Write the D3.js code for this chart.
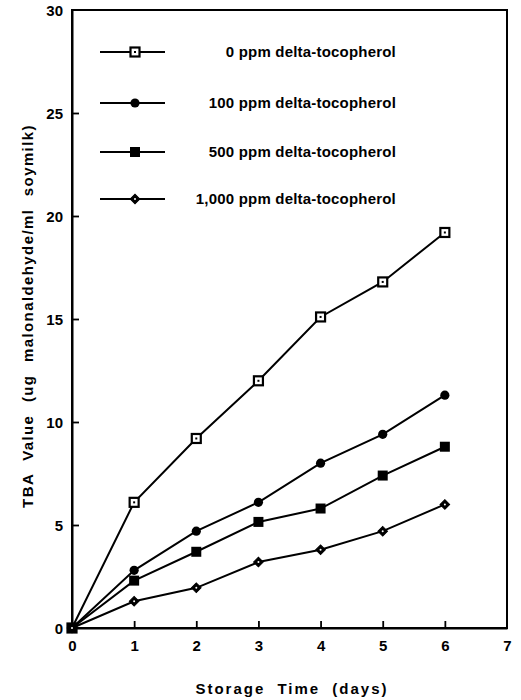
<!DOCTYPE html>
<html>
	<head>
		<meta charset="UTF-8">
		<title>TBA value vs storage time</title>
		<style>
			body{margin:0;background:#fff;}
			text{font-family:"Liberation Sans",Arial,sans-serif;fill:#000;}
		</style>
	</head>
	<body>
		<script src="https://cdn.jsdelivr.net/npm/d3@7/dist/d3.min.js"></script>
		<script>
			//storage days and TBA values per treatment
			var days = [0,1,2,3,4,5,6];
			var ppm0 = [0,6.1,9.2,12.0,15.1,16.8,19.2];
			var ppm100 = [0,2.8,4.7,6.1,8.0,9.4,11.3];
			var ppm500 = [0,2.3,3.7,5.15,5.8,7.4,8.8];
			var ppm1000 = [0,1.3,1.95,3.2,3.8,4.7,6.0];
			var seriesNames = ["0 ppm delta-tocopherol","100 ppm delta-tocopherol","500 ppm delta-tocopherol","1,000 ppm delta-tocopherol"];
			var xTicks = [0,1,2,3,4,5,6,7];
			var yTicks = [0,5,10,15,20,25,30];

			var width = 521,height = 700;
			var m = {l:72,r:14,t:10,b:72};

			var svg = d3.select("body").append("svg")
						.attr("width",width)
						.attr("height",height);

			var x = d3.scaleLinear().domain([0,7]).range([m.l,width-m.r]);
			var y = d3.scaleLinear().domain([0,30]).range([height-m.b,m.t]);

			//frame
			svg.append("rect")
				.attr("x",x(0)).attr("y",y(30))
				.attr("width",x(7)-x(0)).attr("height",y(0)-y(30))
				.attr("fill","none").attr("stroke","#000").attr("stroke-width",2);

			//axes with inward ticks
			var xAxis = svg.append("g")
				.attr("transform","translate(0,"+y(0)+")")
				.call(d3.axisBottom(x).tickValues(xTicks).tickFormat(d3.format("d")).tickSizeInner(-7).tickSizeOuter(0).tickPadding(12));
			var yAxis = svg.append("g")
				.attr("transform","translate("+x(0)+",0)")
				.call(d3.axisLeft(y).tickValues(yTicks).tickFormat(d3.format("d")).tickSizeInner(-7).tickSizeOuter(0).tickPadding(9));
			[xAxis,yAxis].forEach(function(g){
				g.select(".domain").attr("stroke-width",2);
				g.selectAll(".tick line").attr("stroke-width",1.8);
				g.selectAll(".tick text")
					.style("font-size","15px")
					.style("font-weight","bold");
			});
			xAxis.selectAll(".tick").filter(function(d){return d===0||d===7;}).select("line").remove();
			yAxis.selectAll(".tick").filter(function(d){return d===0||d===30;}).select("line").remove();
			yAxis.selectAll(".tick text").attr("dy","0.35em");

			//axis titles
			svg.append("text")
				.attr("x",292).attr("y",694)
				.attr("text-anchor","middle")
				.style("font-size","15px").style("font-weight","bold")
				.style("letter-spacing","2px").style("word-spacing","6px")
				.text("Storage Time (days)");
			svg.append("text")
				.attr("transform","translate(33,"+316+") rotate(-90)")
				.attr("text-anchor","middle")
				.style("font-size","15px").style("font-weight","bold")
				.style("letter-spacing","1.4px").style("word-spacing","7px")
				.text("TBA Value (ug malonaldehyde/ml soymilk)");

			var series = [ppm0,ppm100,ppm500,ppm1000];
			var line = d3.line()
						.x(function(d,i){return x(days[i]);})
						.y(function(d){return y(d);});

			//draw a marker for series k at px,py
			function marker(g,k,px,py){
				if(k===0){
					g.append("rect").attr("x",px-4.5).attr("y",py-4.5).attr("width",9).attr("height",9)
						.attr("fill","#fff").attr("stroke","#000").attr("stroke-width",2.2);
					g.append("rect").attr("x",px-1).attr("y",py-1).attr("width",2).attr("height",2).attr("fill","#000");
				}else if(k===1){
					g.append("circle").attr("cx",px).attr("cy",py).attr("r",4.6).attr("fill","#000");
				}else if(k===2){
					g.append("rect").attr("x",px-5).attr("y",py-5).attr("width",10).attr("height",10).attr("fill","#000");
				}else{
					g.append("path").attr("transform","translate("+px+","+py+") rotate(45)")
						.attr("d",d3.symbol(d3.symbolSquare,46)()).attr("fill","#000")
						.attr("stroke","#000").attr("stroke-width",1);
					g.append("circle").attr("cx",px).attr("cy",py).attr("r",1).attr("fill","#fff");
				}
			}

			var plot = svg.append("g");
			series.forEach(function(vals,k){
				plot.append("path")
					.datum(vals)
					.attr("d",line)
					.attr("fill","none")
					.attr("stroke","#000")
					.attr("stroke-width",2);
				vals.forEach(function(v,i){
					marker(plot,k,x(days[i]),y(v));
				});
			});

			//legend
			var legY = [52,103,152,199];
			var leg = svg.append("g");
			seriesNames.forEach(function(name,k){
				leg.append("line")
					.attr("x1",100).attr("x2",165)
					.attr("y1",legY[k]).attr("y2",legY[k])
					.attr("stroke","#000").attr("stroke-width",2);
				marker(leg,k,135,legY[k]);
				leg.append("text")
					.attr("x",396).attr("y",legY[k])
					.attr("dy","0.35em")
					.attr("text-anchor","end")
					.style("font-size","15px")
					.style("font-weight","bold")
					.style("letter-spacing","0.2px")
					.text(name);
			});
		</script>
	</body>
</html>
